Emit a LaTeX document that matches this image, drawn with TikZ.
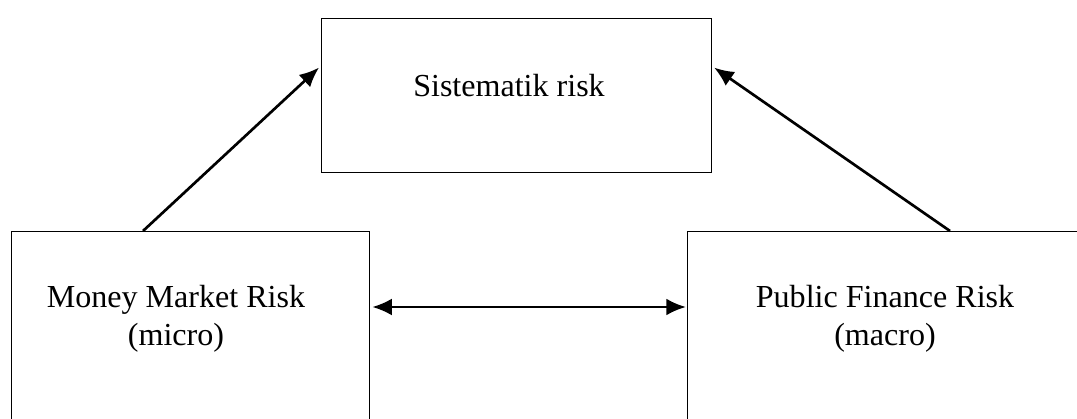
\documentclass[tikz,border=0pt]{standalone}
\usepackage{fontspec}
\setmainfont{Liberation Serif}
\usetikzlibrary{arrows.meta,calc}

\begin{document}
\begin{tikzpicture}[x=0.025cm,y=-0.025cm]
\tikzset{riskbox/.style={draw,line width=0.8pt,minimum width=358*0.025cm,minimum height=240*0.025cm,anchor=north west,inner sep=0pt},
  risktext/.style={font=\fontsize{22.8}{27}\selectfont,align=center,inner sep=0pt},
  arr/.style={line width=1.9pt,-{Latex[length=14pt,width=12pt]}}}
\useasboundingbox (0,0) rectangle (1077,419);
\begin{scope}
\clip (0,0) rectangle (1077,419);
\draw (321,18) node[draw,line width=0.8pt,minimum width=390*0.025cm,minimum height=154*0.025cm,anchor=north west,inner sep=0pt](sys) {};
\draw (11,231) node[riskbox](mmr) {};
\draw (687,231) node[riskbox,minimum width=400*0.025cm](pfr) {};
\end{scope}
\node[risktext,anchor=base] (systext) at (509,97) {Sistematik risk};
\node[risktext,anchor=base] (mmrtext) at (176,345) {Money Market Risk\\(micro)};
\node[risktext,anchor=base] (pfrtext) at (885,345) {Public Finance Risk\\(macro)};
\draw[arr] ($(mmr.north west)+(132,0)$) -- ($(sys.west)+(-2,-28)$);
\draw[arr] ($(pfr.north west)+(263,0)$) -- ($(sys.east)+(2,-28)$);
\draw[arr,{Latex[length=14pt,width=12pt]}-{Latex[length=14pt,width=12pt]}] ($(mmr.north east)+(2,76)$) -- ($(pfr.north west)+(-1,76)$);
\end{tikzpicture}
\end{document}
